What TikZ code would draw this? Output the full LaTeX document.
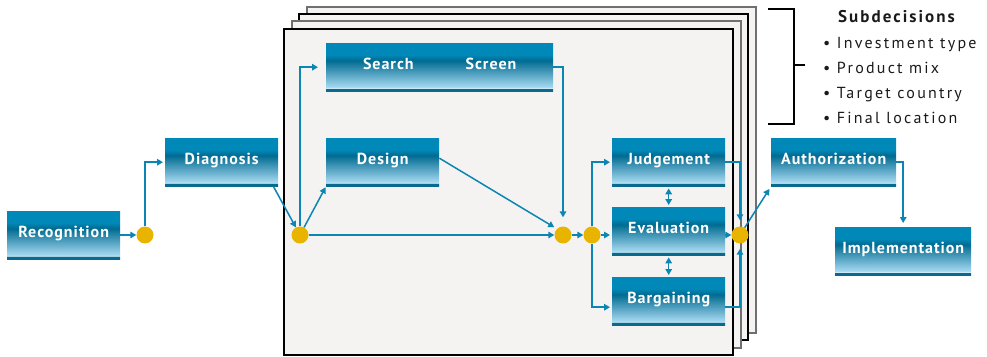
\documentclass[tikz,border=0pt]{standalone}
\usepackage{fontspec}
\setmainfont{PT Sans}
\newfontfamily\boxfont[LetterSpace=6]{PT Sans}
\newfontfamily\listfont[LetterSpace=14]{PT Sans}
\newfontfamily\headfont[LetterSpace=12]{PT Sans}
\usetikzlibrary{arrows.meta,calc}

\definecolor{flowblue}{HTML}{0A85B4}
\definecolor{dotgold}{HTML}{E8B400}
\definecolor{paneltint}{HTML}{F4F3F1}
\definecolor{framegray}{HTML}{707070}
\definecolor{boxtop}{HTML}{0088B8}
\definecolor{boxdark}{HTML}{006B91}
\definecolor{boxlight}{HTML}{A5D8F0}
\definecolor{boxhl}{HTML}{CBEBF9}
\definecolor{boxline}{HTML}{0A6A8E}
\definecolor{listink}{HTML}{1A1A1A}

% vertical gradient of the stage boxes (path spans 25bp..75bp)
\pgfdeclareverticalshading{boxshade}{100bp}{%
  color(0bp)=(boxline); color(25bp)=(boxline); color(27.8bp)=(boxline);
  color(28.3bp)=(boxhl); color(29.5bp)=(boxlight); color(57bp)=(boxdark);
  color(63bp)=(boxtop); color(75bp)=(boxtop); color(100bp)=(boxtop)}

\tikzset{
  stagebox/.style={rectangle, inner sep=0pt, shade, shading=boxshade,
    anchor=north west, text=white, align=center,
    font=\boxfont\bfseries\fontsize{16}{16}\selectfont,
    minimum width=#1, text height=26pt, text depth=22pt},
  hub/.style={circle, fill=dotgold, inner sep=0pt, minimum size=17pt},
  flow/.style={draw=flowblue, line width=1.5pt,
    -{Triangle[length=6pt,width=6.5pt]}},
  twoway/.style={draw=flowblue, line width=1.5pt,
    {Triangle[length=6pt,width=6.5pt]}-{Triangle[length=6pt,width=6.5pt]},
    shorten <=2pt, shorten >=2pt},
  panel/.style={fill=paneltint, line width=1.5pt},
  listtext/.style={anchor=base west, inner sep=0pt, text=listink,
    font=\listfont\fontsize{16}{16}\selectfont}
}

\begin{document}
\begin{tikzpicture}[x=1pt,y=-1pt]
\useasboundingbox (0,0) rectangle (987,356);

% stacked decision panels, back to front
\filldraw[panel, draw=framegray] (307,7) rectangle (756,333);
\filldraw[panel, draw=black] (299,14) rectangle (748,340);
\filldraw[panel, draw=framegray] (292,21) rectangle (741,348);
\filldraw[panel, draw=black] (284,29) rectangle (733,355);

% bracket for the subdecisions
\draw[line width=1.5pt] (768,9) -- (794,9) -- (794,124) -- (768,124);
\draw[line width=1.5pt] (794,65) -- (805,65);
\node[listtext, font=\headfont\bfseries\fontsize{17}{17}\selectfont] (subhead) at (838,22) {Subdecisions};
\node[listtext] (sub1) at (823,48) {\textbullet\ Investment type};
\node[listtext] (sub2) at (823,73) {\textbullet\ Product mix};
\node[listtext] (sub3) at (823,98) {\textbullet\ Target country};
\node[listtext] (sub4) at (823,123) {\textbullet\ Final location};

% stages
\node[stagebox=113pt] (rec) at (7,211) {Recognition};
\node[stagebox=113pt] (diag) at (165,138) {Diagnosis};
\node[stagebox=227pt] (ss) at (326,43) {Search\hspace{52pt}Screen};
\node[stagebox=113pt] (des) at (326,138) {Design};
\node[stagebox=113pt] (judg) at (612,138) {Judgement};
\node[stagebox=113pt] (eval) at (612,207) {Evaluation};
\node[stagebox=113pt] (barg) at (612,277) {Bargaining};
\node[stagebox=125pt] (auth) at (771,138) {Authorization};
\node[stagebox=136pt] (impl) at (835,227) {Implementation};

% junction points
\node[hub] (d1) at (145,235) {};
\node[hub] (d2) at (300,235) {};
\node[hub] (d3) at (563,235) {};
\node[hub] (d4) at (592,235) {};
\node[hub] (d5) at (740,235) {};

% connectors
\draw[flow] (rec.east |- d1) -- (d1);
\draw[flow, shorten >=2pt] (d1.north) |- (diag.west);
\draw[flow] ([xshift=-5pt]diag.south east) -- (d2);
\draw[flow, shorten >=8pt] (d2.north) |- (ss.west);
\draw[flow, shorten >=1pt] (d2) -- (des.south west);
\draw[flow] (d2) -- (d3);
\draw[flow, shorten >=3pt] ([yshift=4pt]des.east) -- (d3.north west);
\draw[flow, shorten >=9pt] (ss.east) -| (d3.north);
\draw[flow] (d3) -- (d4);
\draw[flow, shorten >=2pt] (d4.north) |- (judg.west);
\draw[flow, shorten >=2pt] (d4.south) |- ([yshift=-6pt]barg.west);
\draw[flow, shorten >=2pt] (d4.east) -- (d4.east -| eval.west);
\draw[twoway] (judg.south) -- (eval.north);
\draw[twoway] (eval.south) -- (barg.north);
\draw[flow, shorten >=6pt] (judg.east) -| (d5.north);
\draw[flow, shorten >=5pt] ([yshift=-6pt]barg.east) -| (d5.south);
\draw[flow] (d5.west -| eval.east) -- (d5.west);
\draw[flow, shorten >=3pt] (d5) -- (auth.south west);
\draw[flow, shorten >=4pt] (auth.east) -| (impl.north);
\end{tikzpicture}
\end{document}
